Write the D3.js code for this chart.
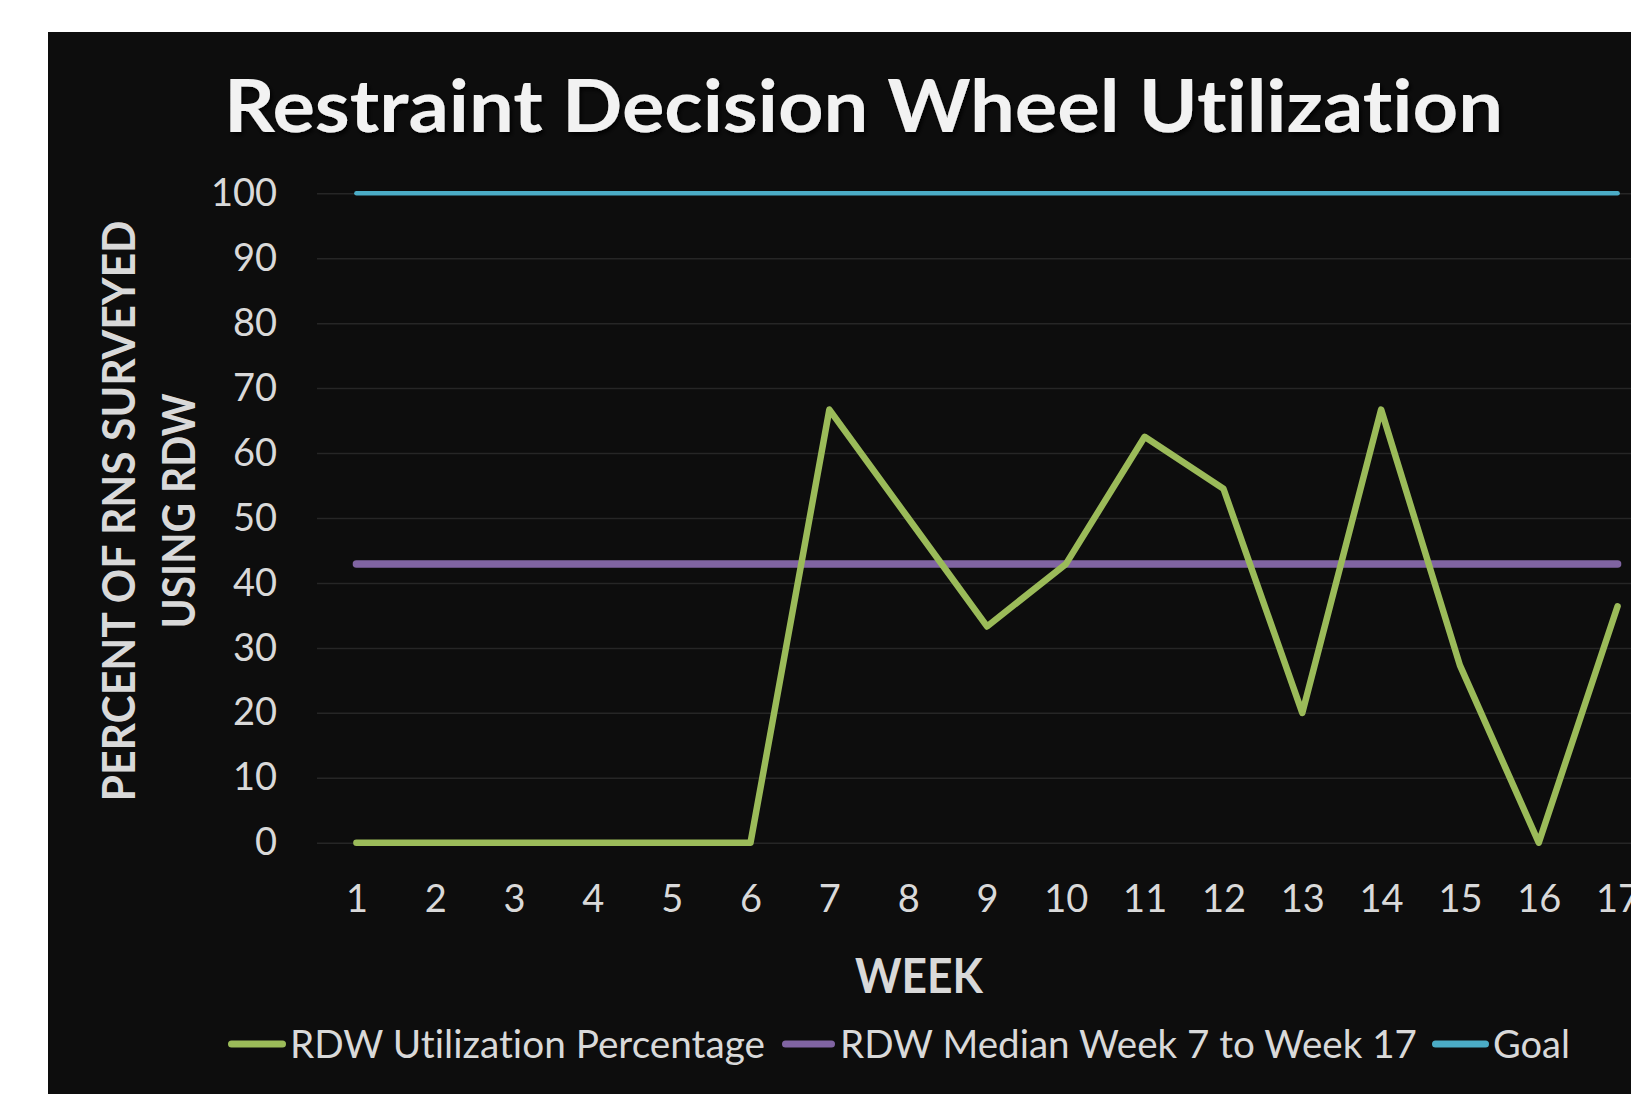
<!DOCTYPE html>
<html><head><meta charset="utf-8">
<script src="https://cdn.jsdelivr.net/npm/d3@7"></script>
<style>
html,body{margin:0;padding:0;background:#ffffff;overflow:hidden}
svg{display:block}
text{font-variant-ligatures:none;font-feature-settings:"liga" 0}
</style>
</head><body>
<script>
// ---- data ----
const weeks = [1,2,3,4,5,6,7,8,9,10,11,12,13,14,15,16,17];
const utilization = [0,0,0,0,0,0,66.7,50,33.3,42.9,62.5,54.5,20,66.7,27.3,0,36.4];
const medianValues = [42.9,42.9,42.9,42.9,42.9,42.9,42.9,42.9,42.9,42.9,42.9,42.9,42.9,42.9,42.9,42.9,42.9];
const goalValues = [100,100,100,100,100,100,100,100,100,100,100,100,100,100,100,100,100];
const yTicks = [0,10,20,30,40,50,60,70,80,90,100];
const seriesNames = ["RDW Utilization Percentage","RDW Median Week 7 to Week 17","Goal"];
const colors = ["#9bbb59","#8064a2","#4bacc6"];
const titleText = "Restraint Decision Wheel Utilization";
const yTitleLines = ["PERCENT OF RNS SURVEYED","USING RDW"];
const xTitleText = "WEEK";

// ---- layout ----
const W = 1631, H = 1094;
const FONT = "Lato, 'Open Sans', sans-serif";
const svg = d3.select("body").append("svg").attr("width", W).attr("height", H);

const defs = svg.append("defs");
const f = defs.append("filter").attr("id","tshadow").attr("x","-5%").attr("y","-20%").attr("width","110%").attr("height","150%");
f.append("feDropShadow").attr("dx",2).attr("dy",3).attr("stdDeviation",2).attr("flood-color","#000").attr("flood-opacity",0.9);

svg.append("rect").attr("x",48).attr("y",32).attr("width",W).attr("height",H).attr("fill","#0d0d0d");

const plotLeft = 317, plotRight = 1657;
const x = d3.scalePoint().domain(weeks).range([plotLeft, plotRight]).padding(0.5);
const y = d3.scaleLinear().domain([0,100]).range([842.7, 193.3]);

// gridlines
const grid = svg.append("g").attr("transform",`translate(${plotLeft},0)`)
  .call(d3.axisLeft(y).tickValues(yTicks).tickSize(-(plotRight-plotLeft)).tickFormat(""));
grid.select(".domain").remove();
grid.selectAll("line").attr("stroke","#262626").attr("stroke-width",1.5);

// y axis labels
const ya = svg.append("g").attr("transform",`translate(${plotLeft},0)`)
  .call(d3.axisLeft(y).tickValues(yTicks).tickSize(0).tickPadding(40));
ya.select(".domain").remove();
ya.selectAll("text").attr("fill","#d9d9d9").style("font-family",FONT).style("font-size","38px");

// x axis labels
const xa = svg.append("g").attr("transform",`translate(0,${y(0)})`)
  .call(d3.axisBottom(x).tickSize(0).tickPadding(42));
xa.select(".domain").remove();
xa.selectAll("text").attr("fill","#d9d9d9").style("font-family",FONT).style("font-size","38px");

// series
const line = d3.line().x((d,i)=>x(weeks[i])).y(d=>y(d));
const seriesData = [utilization, medianValues, goalValues];
const widths = [6.5, 7.5, 4.5];
[2,1,0].forEach(k=>{
  svg.append("path").datum(seriesData[k]).attr("d",line)
    .attr("fill","none").attr("stroke",colors[k]).attr("stroke-width",widths[k])
    .attr("stroke-linecap","round").attr("stroke-linejoin","round");
});

// title
const t = svg.append("text").attr("x",863.5).attr("y",132).attr("text-anchor","middle")
  .attr("fill","#f2f2f2").style("font-family",FONT).style("font-weight","bold").style("font-size","72px")
  .attr("filter","url(#tshadow)").text(titleText);
function fit(sel, target){ const L = sel.node().getComputedTextLength(); if (Math.abs(L-target)>2) sel.attr("textLength",target).attr("lengthAdjust","spacingAndGlyphs"); }
fit(t, 1279);

// y title
const yTitleX = [135, 195];
yTitleLines.forEach((s,i)=>{
  const tt = svg.append("text").attr("transform",`translate(${yTitleX[i]},511) rotate(-90)`)
    .attr("text-anchor","middle").attr("fill","#d9d9d9")
    .style("font-family",FONT).style("font-weight","bold").style("font-size","46px").text(s);
  fit(tt, i===0 ? 581 : 235);
});

// x title
const xt = svg.append("text").attr("x",919).attr("y",993).attr("text-anchor","middle").attr("fill","#d9d9d9")
  .style("font-family",FONT).style("font-weight","bold").style("font-size","48px").text(xTitleText);
fit(xt, 128);

// legend
const legendItems = [
  {sw:[228,286], tx:[290,765]},
  {sw:[782,835], tx:[840,1417]},
  {sw:[1432,1489], tx:[1493,1569]}
];
const legY = 1044;
seriesNames.forEach((name,i)=>{
  const it = legendItems[i];
  svg.append("line").attr("x1",it.sw[0]+3.5).attr("x2",it.sw[1]-3.5).attr("y1",legY).attr("y2",legY)
    .attr("stroke",colors[i]).attr("stroke-width",7).attr("stroke-linecap","round");
  const lt = svg.append("text").attr("x",it.tx[0]).attr("y",legY+13.5).attr("fill","#d9d9d9")
    .style("font-family",FONT).style("font-size","38px").text(name);
  fit(lt, it.tx[1]-it.tx[0]);
});
</script>
</body></html>
